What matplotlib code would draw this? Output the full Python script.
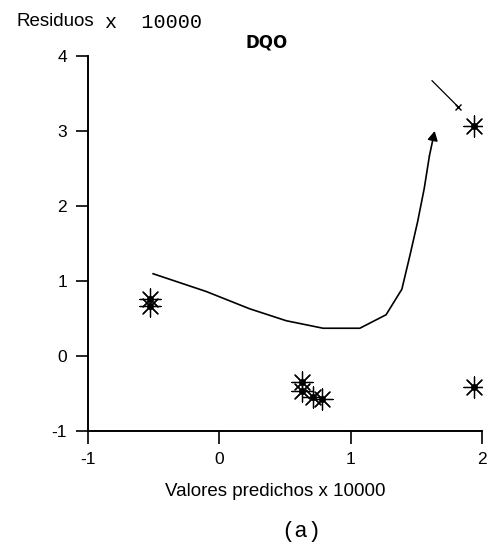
import matplotlib
matplotlib.use("Agg")
import matplotlib.pyplot as plt

# Residuals vs. predicted values (both scaled x 10000)
star_x = [-0.53, -0.53, 0.63, 0.63, 0.71, 0.78, 1.94, 1.94]
star_y = [0.76, 0.66, -0.35, -0.47, -0.55, -0.57, 3.06, -0.41]

# Trend curve ending in an arrow
curve_x = [-0.51, -0.10, 0.23, 0.51, 0.79, 1.07, 1.27, 1.39, 1.45, 1.51, 1.56, 1.60, 1.64]
curve_y = [1.10, 0.86, 0.63, 0.47, 0.37, 0.37, 0.55, 0.89, 1.33, 1.79, 2.23, 2.67, 3.00]

# Pointer toward the upper-right outlier
pointer_x = [1.62, 1.82]
pointer_y = [3.67, 3.32]

x_ticks = [-1, 0, 1, 2]
x_labels = ["-1", "0", "1", "2"]
y_ticks = [-1, 0, 1, 2, 3, 4]
y_labels = ["-1", "0", "1", "2", "3", "4"]

fig = plt.figure(figsize=(4.9, 5.52), dpi=100)
ax = fig.add_axes([0.1796, 0.2192, 0.804, 0.6794])
ax.set_xlim(-1, 2)
ax.set_ylim(-1, 4)

for s in ("top", "right"):
    ax.spines[s].set_visible(False)
for s in ("left", "bottom"):
    ax.spines[s].set_linewidth(1.4)
    ax.spines[s].set_color("black")

ax.set_xticks(x_ticks)
ax.set_xticklabels(x_labels, family="Liberation Sans", fontsize=12.5)
ax.set_yticks(y_ticks)
ax.set_yticklabels(y_labels, family="Liberation Sans", fontsize=12.5)
ax.tick_params(direction="out", length=9, width=1.2, pad=6, colors="black")

# curve with filled arrowhead at the end
ax.plot(curve_x[:-1], curve_y[:-1], color="black", lw=1.2, solid_capstyle="butt")
ax.annotate("", xy=(curve_x[-1], curve_y[-1]), xytext=(curve_x[-2], curve_y[-2]),
            arrowprops=dict(arrowstyle="-|>,head_length=0.55,head_width=0.3",
                            color="black", lw=1.2, shrinkA=0, shrinkB=0))

# pointer line with a small cross at its tip
ax.plot(pointer_x, pointer_y, color="black", lw=0.9)
ax.plot(pointer_x[-1], pointer_y[-1], marker="x", ms=4, mew=1.0, color="black")

# asterisk markers with a dot at the centre
ax.scatter(star_x, star_y, marker=(8, 2, 0), s=230, linewidths=0.9,
           color="black", zorder=3)
ax.scatter(star_x, star_y, marker="o", s=16, color="black", zorder=4)

fig.text(267 / 490, 1 - 43 / 552, "DQO", ha="center", va="center",
         fontsize=12, fontweight="bold", family="DejaVu Sans")
fig.text(16 / 490, 1 - 21 / 552, "Residuos", ha="left", va="center",
         fontsize=13.5, family="Liberation Sans")
fig.text(105 / 490, 1 - 22 / 552, "x  10000", ha="left", va="center",
         fontsize=14.5, family="Liberation Mono")
fig.text(275 / 490, 1 - 492 / 552, "Valores predichos x 10000", ha="center",
         va="center", fontsize=13.5, family="Liberation Sans")
fig.text(301 / 490, 1 - 532 / 552, "(a)", ha="center", va="center",
         fontsize=16, family="Liberation Mono")

fig.savefig("out.png", dpi=100, facecolor="white")
